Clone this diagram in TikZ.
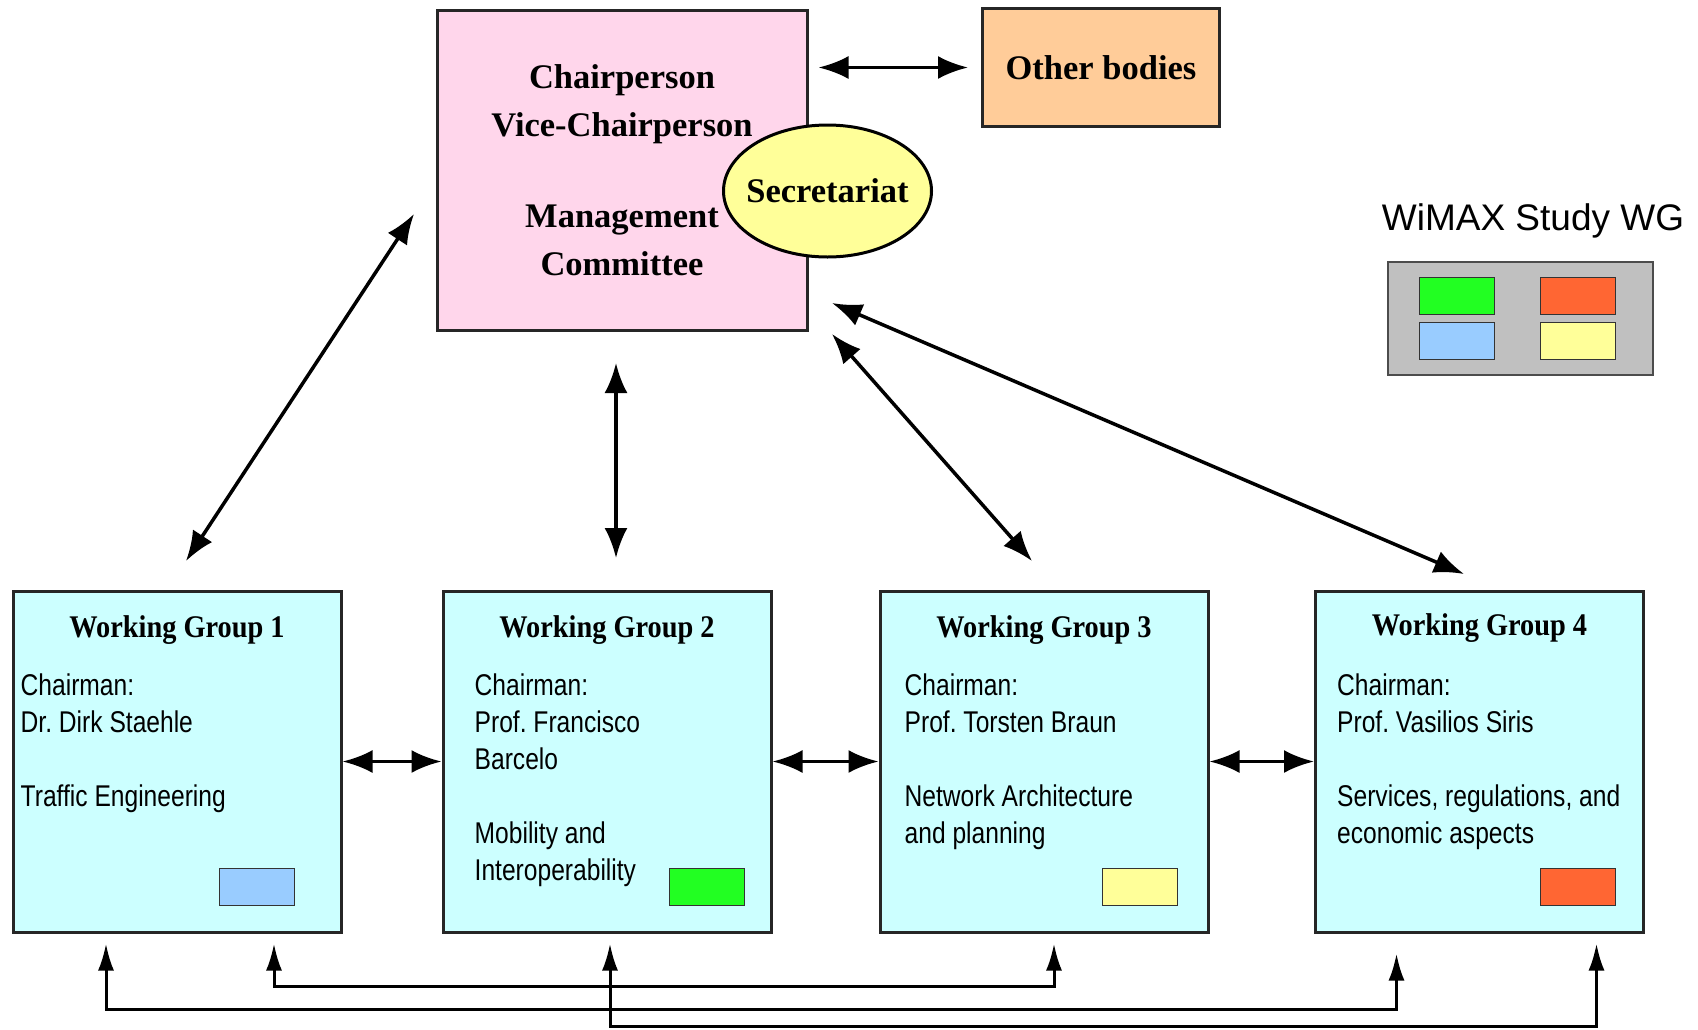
\documentclass[tikz,border=0pt]{standalone}
\usepackage{fontspec}
\setmainfont{Liberation Serif}
\newfontfamily\titleserif[FakeStretch=0.9]{Liberation Serif}
\newfontfamily\narrowsans[FakeStretch=0.82]{Liberation Sans}
\newfontfamily\plainsans{Liberation Sans}
\usetikzlibrary{positioning,shapes.geometric,arrows.meta}
\definecolor{mcpink}{HTML}{FFD6EB}
\definecolor{secyellow}{HTML}{FFFF99}
\definecolor{obpeach}{HTML}{FFCC99}
\definecolor{wgcyan}{HTML}{CCFFFF}
\definecolor{wgblue}{HTML}{99CCFF}
\definecolor{wggreen}{HTML}{22FF22}
\definecolor{wgorange}{HTML}{FF6633}
\definecolor{wggray}{HTML}{C0C0C0}

\begin{document}
\begin{tikzpicture}[x=1pt, y=-1pt, node distance={434pt}, on grid=true,
  >={Latex[length=30pt,width=23pt]},
  box/.style={draw=black!85, line width=3pt, rectangle},
  topfont/.style={font=\bfseries\fontsize{34.5}{48}\selectfont},
  wg/.style={box, fill=wgcyan, minimum width=328pt, minimum height=341pt},
  wgtitle/.style={font=\titleserif\bfseries\fontsize{31.5}{37}\selectfont, anchor=base, inner sep=0pt},
  wgtext/.style={font=\narrowsans\frenchspacing\fontsize{30}{37}\selectfont, align=left, anchor=north west, inner sep=0pt},
  swatch/.style={draw=black!80, line width=1pt, minimum width=75pt, minimum height=37pt, inner sep=0pt},
  link/.style={<->, line width=3.5pt},
  bus/.style={<->, >={Latex[length=27pt,width=16pt]}, line width=3pt}]
        \useasboundingbox (0,0) rectangle (1698,1029);

        \node[box, topfont, fill=mcpink, minimum width=370pt, minimum height=320pt, align=center] (mc) at (622,170) {Chairperson\\Vice-Chairperson\\[43pt]Management\\Committee};
        \node[ellipse, topfont, draw=black, line width=3pt, fill=secyellow, minimum width=208pt, minimum height=132pt, inner xsep=-12pt, inner ysep=0pt] (sec) at (827.5,191) {Secretariat};
        \node[box, topfont, fill=obpeach, minimum width=237pt, minimum height=118pt] (ob) at (1101,67.5) {Other bodies};

        \node[font=\plainsans\fontsize{37}{40}\selectfont, anchor=base, inner sep=0pt] (key) at (1533,230) {WiMAX Study WG};
        \node[draw=black!70, line width=1.5pt, fill=wggray, minimum width=265pt, minimum height=113pt] (legend) at (1520.5,318.5) {};
        \node[swatch, fill=wggreen] (k1) at ([shift={(-63.5,-22.5)}]legend.center) {};
        \node[swatch, fill=wgorange] (k2) at ([shift={(57,-22.5)}]legend.center) {};
        \node[swatch, fill=wgblue] (k3) at ([shift={(-63.5,22.5)}]legend.center) {};
        \node[swatch, fill=secyellow] (k4) at ([shift={(57,22.5)}]legend.center) {};

        \node[wg] (wg1) at (177,761.5) {};
        \node[wg] (wg2) [right=430pt of wg1] {};
        \node[wg] (wg3) [right=437pt of wg2] {};
        \node[wg] (wg4) [right=435.5pt of wg3] {};

        \node[wgtitle] (t1) at ([shift={(0,48)}]wg1.north) {Working Group 1};
        \node[wgtitle] (t2) at ([shift={(0,48)}]wg2.north) {Working Group 2};
        \node[wgtitle] (t3) at ([shift={(0,48)}]wg3.north) {Working Group 3};
        \node[wgtitle] (t4) at ([shift={(0,46)}]wg4.north) {Working Group 4};

        \node[wgtext] (c1) at ([shift={(9,84)}]wg1.north west) {Chairman:\\Dr. Dirk Staehle\\[37pt]Traffic Engineering};
        \node[wgtext] (c2) at ([shift={(33,84)}]wg2.north west) {Chairman:\\Prof. Francisco\\Barcelo\\[37pt]Mobility and\\Interoperability};
        \node[wgtext] (c3) at ([shift={(26,84)}]wg3.north west) {Chairman:\\Prof. Torsten Braun\\[37pt]Network Architecture\\and planning};
        \node[wgtext] (c4) at ([shift={(23,84)}]wg4.north west) {Chairman:\\Prof. Vasilios Siris\\[37pt]Services, regulations, and\\economic aspects};

        \node[swatch, fill=wgblue] (s1) at ([shift={(-86,-46.5)}]wg1.south east) {};
        \node[swatch, fill=wggreen] (s2) at ([shift={(-66,-46.5)}]wg2.south east) {};
        \node[swatch, fill=secyellow] (s3) at ([shift={(-70,-46.5)}]wg3.south east) {};
        \node[swatch, fill=wgorange] (s4) at ([shift={(-67,-46.5)}]wg4.south east) {};

        \coordinate (p1) at (414,214);
        \coordinate (q1) at (186,561);
        \coordinate (p2) at (616,363);
        \coordinate (q2) at (616,558);
        \coordinate (p3) at (832,334);
        \coordinate (q3) at (1032,561);
        \coordinate (p4) at (832,303);
        \coordinate (q4) at (1464,574);

        \draw[link, shorten <=10pt, shorten >=13pt] (mc.east |- ob.west) to (ob.west);
        \draw[link] (p1) to (q1);
        \draw[link] (p2) to (q2);
        \draw[link] (p3) to (q3);
        \draw[link] (p4) to (q4);
        \draw[link] (wg1.east) to (wg2.west);
        \draw[link] (wg2.east) to (wg3.west);
        \draw[link] (wg3.east) to (wg4.west);

        \coordinate (ba1) at ([shift={(-71,10)}]wg1.south);
        \coordinate (ba2) at ([shift={(-83,20)}]wg4.south);
        \coordinate (bb1) at ([shift={(97,10)}]wg1.south);
        \coordinate (bb2) at ([shift={(10,10)}]wg3.south);
        \coordinate (bc1) at ([shift={(3,10)}]wg2.south);
        \coordinate (bc2) at ([shift={(117,10)}]wg4.south);

        \draw[bus] (ba1) -- ++(0,66) -| (ba2);
        \draw[bus] (bb1) -- ++(0,42.5) -| (bb2);
        \draw[bus] (bc1) -- ++(0,83) -| (bc2);
\end{tikzpicture}
\end{document}
